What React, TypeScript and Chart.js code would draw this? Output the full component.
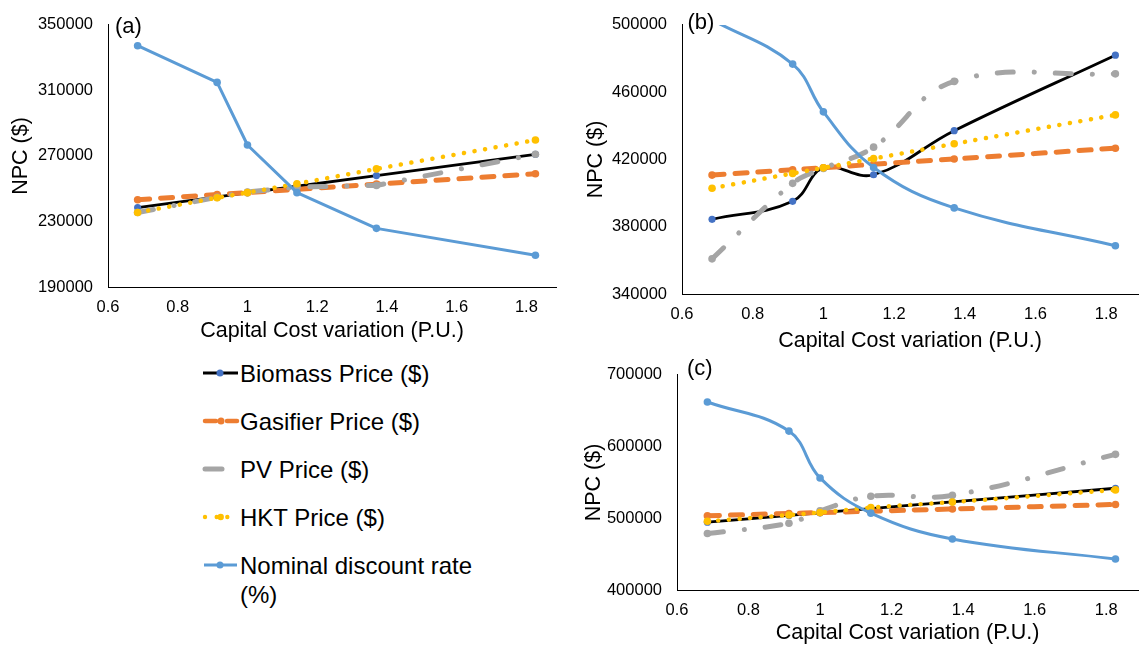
import React, { useEffect, useRef } from 'react';
import { Chart, registerables } from 'chart.js';

Chart.register(...registerables);

// ---------- data ----------
const xValues = [0.685, 0.913, 1.0, 1.142, 1.37, 1.826];
const xTicks = [0.6, 0.8, 1, 1.2, 1.4, 1.6, 1.8];
const seriesNames = [
  'Biomass Price ($)',
  'Gasifier Price ($)',
  'PV Price ($)',
  'HKT Price ($)',
  'Nominal discount rate (%)',
];

// panel (a)
const biomassA = [238500, 245000, 247500, 251500, 258000, 271000];
const gasifierA = [243300, 246450, 247660, 249630, 252790, 259100];
const pvA = [235500, 244700, 248000, 251000, 252000, 271000];
const hktA = [235500, 244500, 247600, 253000, 262100, 279700];
const nominalA = [337300, 314900, 276700, 247600, 225800, 209400];
const yTicksA = [190000, 230000, 270000, 310000, 350000];

// panel (b)
const biomassB = [384400, 395100, 415000, 410900, 437100, 482000];
const gasifierB = [410700, 413900, 415100, 417100, 420300, 426700];
const pvB = [360900, 405800, 414600, 427300, 466400, 470900];
const hktB = [402900, 411700, 415000, 420500, 429300, 446500];
const nominalB = [503000, 476700, 448300, 415200, 391200, 368700];
const yTicksB = [340000, 380000, 420000, 460000, 500000];

// panel (c)
const biomassC = [494600, 504050, 507660, 513540, 523000, 541900];
const gasifierC = [503600, 506740, 507930, 509890, 513030, 519300];
const pvC = [478800, 493200, 510400, 530700, 532000, 589200];
const hktC = [495900, 504500, 508100, 514900, 522600, 539600];
const nominalC = [662200, 621600, 556300, 507200, 471200, 443200];
const yTicksC = [400000, 500000, 600000, 700000];

const X_TITLE = 'Capital Cost variation (P.U.)';
const Y_TITLE = 'NPC ($)';
const FONT = '"Liberation Sans", Arial, sans-serif';

// ---------- styles ----------
const STYLES = [
  { color: '#000000', point: '#4472C4', width: 2.8, dash: [] as number[], radius: 3.6, order: 5 },
  { color: '#ED7D31', point: '#ED7D31', width: 5, dash: [12, 11], radius: 3.8, order: 4 },
  { color: '#A5A5A5', point: '#A5A5A5', width: 5, dash: [16, 21, 0.1, 21], radius: 3.8, order: 3 },
  { color: '#FFC000', point: '#FFC000', width: 4.5, dash: [0.1, 10.6], radius: 3.8, order: 2 },
  { color: '#5B9BD5', point: '#5B9BD5', width: 3, dash: [] as number[], radius: 3.8, order: 1 },
];

const panelLabelPlugin = {
  id: 'panelLabel',
  afterDraw(chart: any, _args: any, opts: any) {
    const { ctx, chartArea } = chart;
    ctx.save();
    ctx.font = `22px ${FONT}`;
    ctx.fillStyle = '#000';
    ctx.textBaseline = 'middle';
    ctx.textAlign = 'left';
    ctx.fillText(opts.text, chartArea.left + opts.dx, chartArea.top + opts.dy);
    ctx.restore();
  },
};

type PanelCfg = {
  label: string;
  series: number[][];
  yTicks: number[];
  smooth: boolean;
  left: number;
  top: number;
  w: number;
  h: number;
  padTop: number;
  yAxisWidth: number;
  xAxisHeight: number;
  yTitlePad: number;
  xMax: number;
  labelDx: number;
  labelDy: number;
};

const PANELS: PanelCfg[] = [
  {
    label: '(a)',
    series: [biomassA, gasifierA, pvA, hktA, nominalA],
    yTicks: yTicksA,
    smooth: false,
    left: 0, top: 0, w: 560, h: 344,
    padTop: 23, yAxisWidth: 108, xAxisHeight: 57, yTitlePad: 8,
    xMax: 1.885, labelDx: 7, labelDy: 2,
  },
  {
    label: '(b)',
    series: [biomassB, gasifierB, pvB, hktB, nominalB],
    yTicks: yTicksB,
    smooth: true,
    left: 580, top: 0, w: 562, h: 354,
    padTop: 21, yAxisWidth: 102, xAxisHeight: 60, yTitlePad: 3,
    xMax: 1.89, labelDx: 5.5, labelDy: -2,
  },
  {
    label: '(c)',
    series: [biomassC, gasifierC, pvC, hktC, nominalC],
    yTicks: yTicksC,
    smooth: true,
    left: 580, top: 350, w: 562, h: 296,
    padTop: 18, yAxisWidth: 97, xAxisHeight: 56, yTitlePad: 1,
    xMax: 1.889, labelDx: 10, labelDy: -6,
  },
];

function Panel({ cfg }: { cfg: PanelCfg }) {
  const ref = useRef<HTMLCanvasElement>(null);
  useEffect(() => {
    const canvas = ref.current!;
    const datasets = cfg.series.map((vals, i) => {
      const s = STYLES[i];
      return {
        label: seriesNames[i],
        data: xValues.map((x, j) => ({ x, y: vals[j] })),
        showLine: true,
        borderColor: s.color,
        backgroundColor: s.point,
        pointBackgroundColor: s.point,
        pointBorderColor: s.point,
        pointRadius: s.radius,
        pointBorderWidth: 0,
        borderWidth: s.width,
        borderDash: s.dash,
        borderCapStyle: 'round',
        borderJoinStyle: 'round',
        tension: cfg.smooth ? 0.4 : 0,
        order: s.order,
      };
    });
    const chart = new Chart(canvas, {
      type: 'scatter',
      data: { datasets } as any,
      options: {
        animation: false,
        responsive: false,
        devicePixelRatio: 1,
        layout: { padding: { top: cfg.padTop, left: 0, right: 0, bottom: 0 } },
        plugins: {
          legend: { display: false },
          tooltip: { enabled: false },
          panelLabel: { text: cfg.label, dx: cfg.labelDx, dy: cfg.labelDy },
        } as any,
        scales: {
          x: {
            type: 'linear',
            min: 0.6,
            max: cfg.xMax,
            grid: { display: false, drawTicks: false },
            border: { display: true, color: '#000', width: 1 },
            afterBuildTicks: (s: any) => {
              s.ticks = xTicks.map((v) => ({ value: v }));
            },
            afterFit: (s: any) => {
              s.height = cfg.xAxisHeight;
            },
            ticks: {
              padding: 11,
              color: '#000',
              font: { family: FONT, size: 16.5 },
              maxRotation: 0,
              autoSkip: false,
              callback: (v: any) => String(v),
            },
            title: {
              display: true,
              text: X_TITLE,
              color: '#000',
              font: { family: FONT, size: 21.5 },
              padding: { top: 0, bottom: 0 },
            },
          },
          y: {
            type: 'linear',
            min: cfg.yTicks[0],
            max: cfg.yTicks[cfg.yTicks.length - 1],
            grid: { display: false, drawTicks: false },
            border: { display: true, color: '#000', width: 1 },
            afterBuildTicks: (s: any) => {
              s.ticks = cfg.yTicks.map((v) => ({ value: v }));
            },
            afterFit: (s: any) => {
              s.width = cfg.yAxisWidth;
            },
            ticks: {
              padding: 15,
              color: '#000',
              font: { family: FONT, size: 16.5 },
              autoSkip: false,
              callback: (v: any) => String(v),
            },
            title: {
              display: true,
              text: Y_TITLE,
              color: '#000',
              font: { family: FONT, size: 21.5 },
              padding: { top: cfg.yTitlePad, bottom: 0 },
            },
          },
        },
      } as any,
      plugins: [panelLabelPlugin as any],
    });
    return () => chart.destroy();
  }, [cfg]);
  return (
    <canvas
      ref={ref}
      width={cfg.w}
      height={cfg.h}
      style={{ position: 'absolute', left: cfg.left, top: cfg.top, width: cfg.w, height: cfg.h }}
    />
  );
}

function LegendSymbol({ i }: { i: number }) {
  const s = STYLES[i];
  const cy = 10;
  if (i === 0) {
    return (
      <>
        <line x1={3} x2={38} y1={cy} y2={cy} stroke={s.color} strokeWidth={2.8} />
        <circle cx={20} cy={cy} r={3.5} fill={s.point} />
      </>
    );
  }
  if (i === 1) {
    return (
      <>
        <line x1={5} x2={16} y1={cy} y2={cy} stroke={s.color} strokeWidth={4.5} strokeLinecap="round" />
        <line x1={27} x2={37} y1={cy} y2={cy} stroke={s.color} strokeWidth={4.5} strokeLinecap="round" />
        <circle cx={21} cy={cy} r={3.5} fill={s.point} />
      </>
    );
  }
  if (i === 2) {
    return <line x1={5} x2={22} y1={cy} y2={cy} stroke={s.color} strokeWidth={5} strokeLinecap="round" />;
  }
  if (i === 3) {
    return (
      <>
        <circle cx={5} cy={cy} r={2.2} fill={s.color} />
        <circle cx={16.7} cy={cy} r={2.2} fill={s.color} />
        <circle cx={20.7} cy={cy} r={3.2} fill={s.point} />
        <circle cx={27.3} cy={cy} r={2.2} fill={s.color} />
      </>
    );
  }
  return (
    <>
      <line x1={4} x2={37} y1={cy} y2={cy} stroke={s.color} strokeWidth={3} />
      <circle cx={20} cy={cy} r={3.5} fill={s.point} />
    </>
  );
}

const LEGEND_ROWS = [373, 421, 469, 517, 565];

function Legend() {
  return (
    <>
      {seriesNames.map((name, i) => (
        <React.Fragment key={name}>
          <svg
            width={42}
            height={20}
            style={{ position: 'absolute', left: 200, top: LEGEND_ROWS[i] - 10 }}
          >
            <LegendSymbol i={i} />
          </svg>
          <div
            style={{
              position: 'absolute',
              left: 240,
              top: LEGEND_ROWS[i] - 14.5,
              width: 250,
              fontFamily: FONT,
              fontSize: 24,
              lineHeight: '29px',
              color: '#000',
            }}
          >
            {name}
          </div>
        </React.Fragment>
      ))}
    </>
  );
}

export default function App() {
  return (
    <div
      style={{
        position: 'absolute',
        left: 0,
        top: 0,
        width: 1142,
        height: 646,
        background: '#fff',
        overflow: 'hidden',
      }}
    >
      {PANELS.map((p) => (
        <Panel key={p.label} cfg={p} />
      ))}
      <Legend />
    </div>
  );
}
